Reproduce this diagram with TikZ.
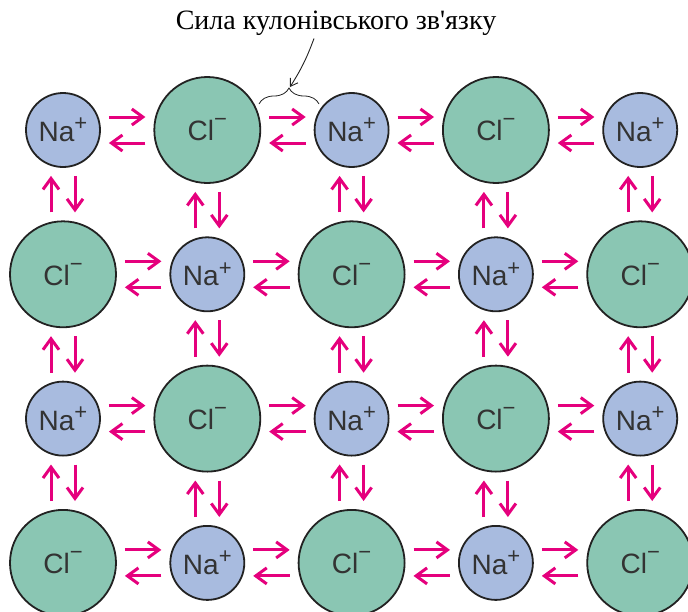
\documentclass[tikz,border=0pt]{standalone}
\usepackage{fontspec}
\setmainfont{Liberation Serif}
\newfontfamily\ionfont{Liberation Sans}
\usetikzlibrary{arrows.meta,decorations.pathreplacing,calc}

\definecolor{naFill}{HTML}{A8BBDF}
\definecolor{clFill}{HTML}{8AC6B3}
\definecolor{force}{HTML}{E5007D}
\definecolor{rim}{HTML}{222222}
\definecolor{ink}{HTML}{333333}

% ion labels with an enlarged charge sign
\newcommand\naion{Na\raisebox{0.38em}{\fontsize{22}{22}\selectfont +}}
\newcommand\clion{Cl\raisebox{0.50em}{\fontsize{22}{22}\selectfont −}}

\begin{document}
\begin{tikzpicture}[x=1pt,y=-1pt,
  ion/.style={circle, draw=rim, line width=1.8pt, inner sep=0pt, text=ink,
    font=\ionfont\fontsize{28}{28}\selectfont},
  na/.style={ion, fill=naFill, minimum size=74pt},
  cl/.style={ion, fill=clFill, minimum size=106pt},
  pull/.style={draw=force, line width=3pt,
    -{Straight Barb[length=11pt,width=16pt,line width=3pt]},
    shorten <=8pt, shorten >=8pt},
  caption/.style={font=\fontsize{28}{28}\selectfont, inner sep=0pt}]
\useasboundingbox (0,0) rectangle (688,611);
\clip (0,0) rectangle (688,611);

% lattice of ions
\foreach \r in {0,...,3} {
  \foreach \c in {0,...,4} {
    \pgfmathtruncatemacro\k{mod(\r+\c,2)}
    \ifnum\k=0
      \node[na] (n-\r-\c) at ({63+144.3*\c},{130+144.3*\r}) {\naion};
    \else
      \node[cl] (n-\r-\c) at ({63+144.3*\c},{130+144.3*\r}) {\clion};
    \fi
  }
}

% horizontal attraction arrows
\foreach \r in {0,...,3} {
  \foreach \c [evaluate=\c as \d using int(\c+1)] in {0,...,3} {
    \draw[pull] ([yshift=13pt]n-\r-\c.east) -- ([yshift=13pt]n-\r-\d.west);
    \draw[pull] ([yshift=-13pt]n-\r-\d.west) -- ([yshift=-13pt]n-\r-\c.east);
  }
}

% vertical attraction arrows
\foreach \r [evaluate=\r as \e using int(\r+1)] in {0,...,2} {
  \foreach \c in {0,...,4} {
    \draw[pull] ([xshift=-12pt]n-\e-\c.north) -- ([xshift=-12pt]n-\r-\c.south);
    \draw[pull] ([xshift=12pt]n-\r-\c.south) -- ([xshift=12pt]n-\e-\c.north);
  }
}

% caption with brace over one bond
\node[caption] (title) at (336,23) {Сила кулонівського зв\textquotesingle язку};
\coordinate (brace-l) at (259,104);
\coordinate (brace-r) at (319,104);
\draw[rim, line width=0.8pt, decorate, decoration={brace, amplitude=16pt}]
  (brace-l) -- (brace-r);
\coordinate (brace-tip) at (290,87);
\draw[rim, line width=0.9pt, -{Straight Barb[length=7pt,width=9pt,line width=0.9pt]}]
  ([xshift=-22pt,yshift=-3pt]title.south) to[bend left=6] (brace-tip);
\end{tikzpicture}
\end{document}
